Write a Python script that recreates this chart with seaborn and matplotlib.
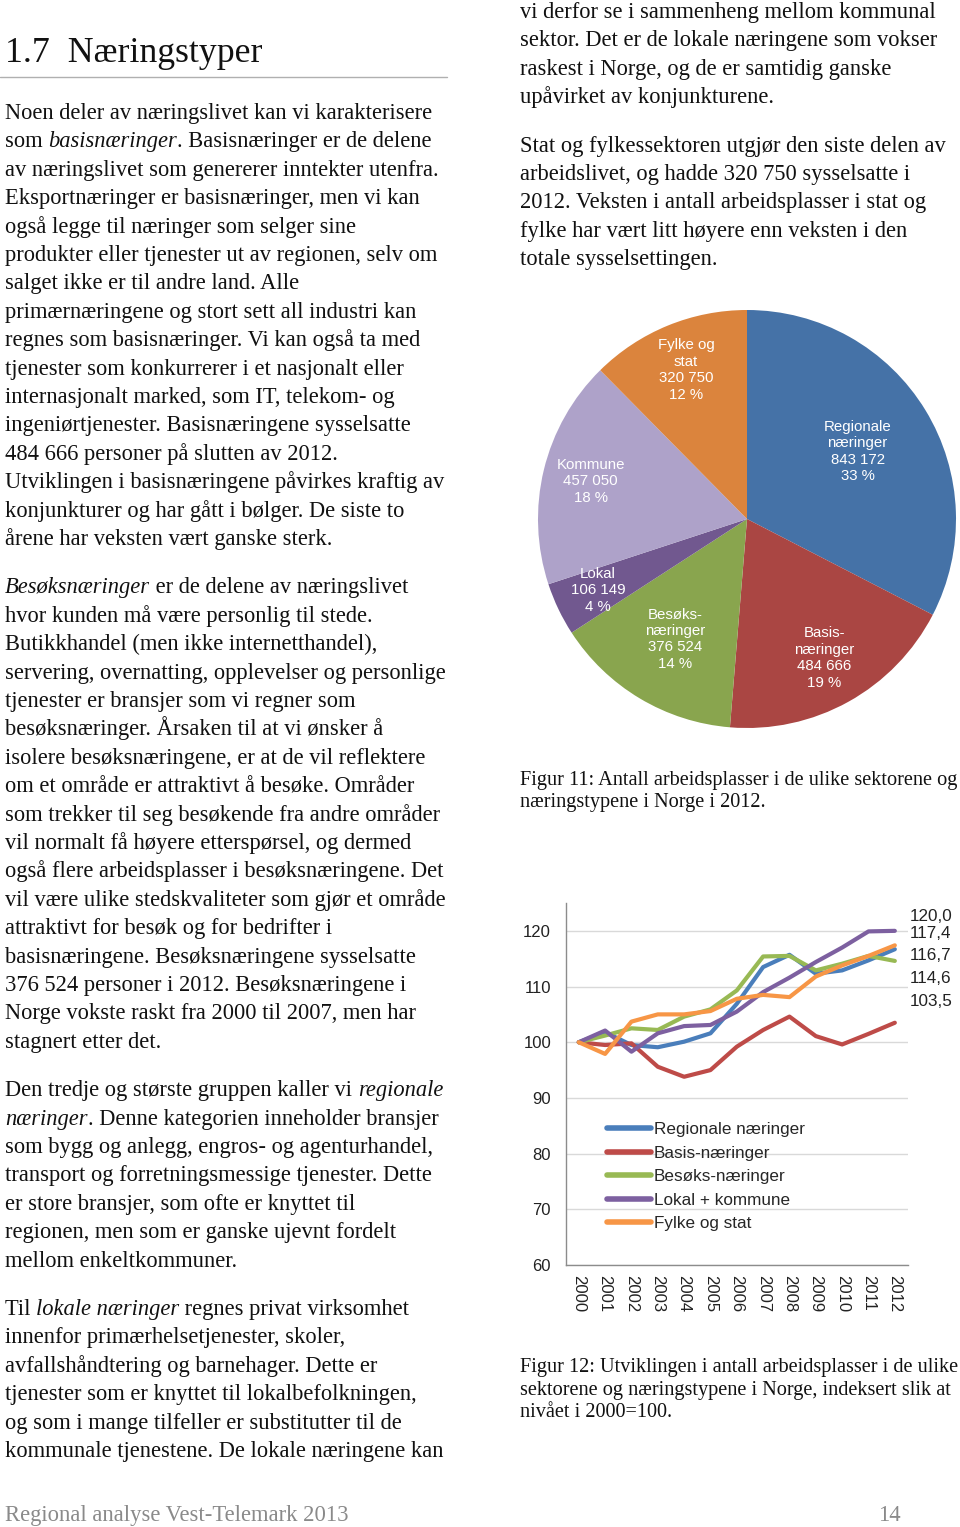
import numpy as np
import pandas as pd
import seaborn as sns
import matplotlib.pyplot as plt

W, H = 960, 1527

# Figur 11: arbeidsplasser 2012
pie_names = ['Regionale\nnæringer', 'Basis-\nnæringer', 'Besøks-\nnæringer',
             'Lokal', 'Kommune', 'Fylke og\nstat']
pie_values = [843172, 484666, 376524, 106149, 457050, 320750]
pie_pct = [33, 19, 14, 4, 18, 12]
pie_colors = ['#4572A7', '#AA4643', '#89A54E', '#71588F', '#AEA2C9', '#DB843D']
pie_label_dist = [0.62, 0.76, 0.67, 0.79, 0.77, 0.77]

# Figur 12: indeks 2000=100
years = [2000, 2001, 2002, 2003, 2004, 2005, 2006, 2007, 2008, 2009, 2010, 2011, 2012]
series_names = ['Regionale næringer', 'Basis-næringer', 'Besøks-næringer',
                'Lokal + kommune', 'Fylke og stat']
regionale = [100, 101.8, 99.5, 99.1, 100.1, 101.6, 106.9, 113.5, 115.7, 112.3, 112.9, 114.7, 116.7]
basis = [100, 99.5, 99.8, 95.6, 93.8, 95.0, 99.2, 102.2, 104.6, 101.1, 99.6, 101.5, 103.5]
besoks = [100, 101.2, 102.5, 102.2, 104.6, 105.9, 109.3, 115.4, 115.5, 112.9, 114.1, 115.5, 114.6]
lokal_kommune = [100, 102.1, 98.3, 101.6, 102.9, 103.1, 105.5, 109.0, 111.6, 114.4, 117.0, 119.9, 120.0]
fylke_stat = [100, 97.9, 103.7, 105.0, 105.0, 105.6, 107.8, 108.5, 108.1, 111.8, 113.8, 115.5, 117.4]
line_colors = ['#4A7EBB', '#BE4B48', '#98B954', '#7D60A0', '#F79646']
# offset (px, down positive) of the end labels from the last point
end_label_dy = [6, -21, 17.5, -14, -12]

left_paragraphs = [
    ["Noen deler av næringslivet kan vi karakterisere",
     "som _basisnæringer_. Basisnæringer er de delene",
     "av næringslivet som genererer inntekter utenfra.",
     "Eksportnæringer er basisnæringer, men vi kan",
     "også legge til næringer som selger sine",
     "produkter eller tjenester ut av regionen, selv om",
     "salget ikke er til andre land. Alle",
     "primærnæringene og stort sett all industri kan",
     "regnes som basisnæringer. Vi kan også ta med",
     "tjenester som konkurrerer i et nasjonalt eller",
     "internasjonalt marked, som IT, telekom- og",
     "ingeniørtjenester. Basisnæringene sysselsatte",
     "484 666 personer på slutten av 2012.",
     "Utviklingen i basisnæringene påvirkes kraftig av",
     "konjunkturer og har gått i bølger. De siste to",
     "årene har veksten vært ganske sterk."],
    ["_Besøksnæringer_ er de delene av næringslivet",
     "hvor kunden må være personlig til stede.",
     "Butikkhandel (men ikke internetthandel),",
     "servering, overnatting, opplevelser og personlige",
     "tjenester er bransjer som vi regner som",
     "besøksnæringer. Årsaken til at vi ønsker å",
     "isolere besøksnæringene, er at de vil reflektere",
     "om et område er attraktivt å besøke. Områder",
     "som trekker til seg besøkende fra andre områder",
     "vil normalt få høyere etterspørsel, og dermed",
     "også flere arbeidsplasser i besøksnæringene. Det",
     "vil være ulike stedskvaliteter som gjør et område",
     "attraktivt for besøk og for bedrifter i",
     "basisnæringene. Besøksnæringene sysselsatte",
     "376 524 personer i 2012. Besøksnæringene i",
     "Norge vokste raskt fra 2000 til 2007, men har",
     "stagnert etter det."],
    ["Den tredje og største gruppen kaller vi _regionale_",
     "_næringer_. Denne kategorien inneholder bransjer",
     "som bygg og anlegg, engros- og agenturhandel,",
     "transport og forretningsmessige tjenester. Dette",
     "er store bransjer, som ofte er knyttet til",
     "regionen, men som er ganske ujevnt fordelt",
     "mellom enkeltkommuner."],
    ["Til _lokale næringer_ regnes privat virksomhet",
     "innenfor primærhelsetjenester, skoler,",
     "avfallshåndtering og barnehager. Dette er",
     "tjenester som er knyttet til lokalbefolkningen,",
     "og som i mange tilfeller er substitutter til de",
     "kommunale tjenestene. De lokale næringene kan"],
]
right_paragraphs = [
    ["vi derfor se i sammenheng mellom kommunal",
     "sektor. Det er de lokale næringene som vokser",
     "raskest i Norge, og de er samtidig ganske",
     "upåvirket av konjunkturene."],
    ["Stat og fylkessektoren utgjør den siste delen av",
     "arbeidslivet, og hadde 320 750 sysselsatte i",
     "2012. Veksten i antall arbeidsplasser i stat og",
     "fylke har vært litt høyere enn veksten i den",
     "totale sysselsettingen."],
]
caption11 = ["Figur 11: Antall arbeidsplasser i de ulike sektorene og",
             "næringstypene i Norge i 2012."]
caption12 = ["Figur 12: Utviklingen i antall arbeidsplasser i de ulike",
             "sektorene og næringstypene i Norge, indeksert slik at",
             "nivået i 2000=100."]
heading = "1.7  Næringstyper"
footer = "Regional analyse Vest-Telemark 2013"
page_no = "14"

sns.set_theme(style='white')
plt.rcParams['font.family'] = ['Liberation Sans', 'DejaVu Sans']
SERIF = ['Liberation Serif', 'DejaVu Serif']

fig = plt.figure(figsize=(W / 100, H / 100), dpi=100)
fig.patch.set_facecolor('white')
renderer = fig.canvas.get_renderer()


def text_width(s, size, style='normal'):
    t = fig.text(0, 0, 'a' + s + 'a', fontsize=size, family=SERIF, style=style)
    w = t.get_window_extent(renderer).width
    t.set_text('aa')
    w -= t.get_window_extent(renderer).width
    t.remove()
    return w


def fit_size(s, target):
    return 10 * target / text_width(s, 10)


def draw_line(x, y, line, size, color='#111111'):
    for i, seg in enumerate(line.split('_')):
        if not seg:
            continue
        style = 'italic' if i % 2 else 'normal'
        fig.text(x / W, 1 - y / H, seg, fontsize=size, family=SERIF, style=style,
                 color=color, ha='left', va='baseline')
        x += text_width(seg, size, style)


def draw_block(x, y, paragraphs, size, lead=28.4, gap=20):
    for para in paragraphs:
        for line in para:
            draw_line(x, y, line, size)
            y += lead
        y += gap


body = fit_size(left_paragraphs[0][0], 428)
cap = fit_size(caption11[0], 438)

# heading
fig.text(5 / W, 1 - 62 / H, heading, fontsize=fit_size(heading, 257), family=SERIF,
         color='#111111', ha='left', va='baseline')
fig.add_artist(plt.Line2D([0, 447 / W], [1 - 77 / H] * 2, color='#b0b0b0', lw=1))

draw_block(5, 119, left_paragraphs, body)
draw_block(520, 18, right_paragraphs, body)
draw_block(520, 785, [caption11], cap, lead=21.8)
draw_block(520, 1372, [caption12], cap, lead=22.5)

fs = fit_size(footer, 343)
fig.text(5 / W, 1 - 1521 / H, footer, fontsize=fs, family=SERIF, color='#8a8a8a',
         ha='left', va='baseline')
fig.text(878 / W, 1 - 1521 / H, page_no, fontsize=fs, family=SERIF, color='#8a8a8a',
         ha='left', va='baseline')

# ---- pie (figur 11)
cx, cy, r = 747, 519, 209
ax1 = fig.add_axes([(cx - r) / W, 1 - (cy + r) / H, 2 * r / W, 2 * r / H])
wedges, _ = ax1.pie(pie_values, colors=pie_colors, startangle=90, counterclock=False,
                    wedgeprops=dict(linewidth=0))
ax1.set_xlim(-1, 1)
ax1.set_ylim(-1, 1)
ax1.set_aspect('equal')
ax1.axis('off')
for w, name, val, pct, d in zip(wedges, pie_names, pie_values, pie_pct, pie_label_dist):
    th = np.deg2rad((w.theta1 + w.theta2) / 2)
    label = f"{name}\n{val:,}\n{pct} %".replace(',', ' ')
    ax1.text(d * np.cos(th), d * np.sin(th), label, ha='center', va='center',
             color='white', fontsize=10.8, linespacing=1.22)

# ---- lines (figur 12)
all_series = [regionale, basis, besoks, lokal_kommune, fylke_stat]
df = pd.DataFrame({
    'År': years * len(series_names),
    'Indeks': sum(all_series, []),
    'Sektor': np.repeat(series_names, len(years)),
})
ax2 = fig.add_axes([565.6 / W, 1 - 1265 / H, (908 - 565.6) / W, (1265 - 903) / H])
sns.lineplot(data=df, x='År', y='Indeks', hue='Sektor', palette=line_colors,
             linewidth=3, ax=ax2, legend=True)
ax2.set_xlim(1999.5, 2012.5)
ax2.set_ylim(60, 125)
ax2.set_yticks(range(60, 121, 10))
ax2.set_xticks(years)
ax2.set_xticklabels([str(y) for y in years], rotation=-90, va='top', ha='center')
ax2.set_xlabel('')
ax2.set_ylabel('')
ax2.yaxis.grid(True, color='#d9d9d9', lw=1)
ax2.xaxis.grid(False)
ax2.set_facecolor('white')
for s in ['top', 'right']:
    ax2.spines[s].set_visible(False)
for s in ['left', 'bottom']:
    ax2.spines[s].set_color('#8c8c8c')
    ax2.spines[s].set_linewidth(1)
ax2.tick_params(axis='y', length=0, pad=10.5, labelsize=12, labelcolor='#222222')
ax2.tick_params(axis='x', length=0, pad=7, labelsize=12, labelcolor='#222222')

for vals, dy in zip(all_series, end_label_dy):
    ax2.annotate(f"{vals[-1]:.1f}".replace('.', ','), xy=(years[-1], vals[-1]),
                 xytext=(15 * 0.72, -dy * 0.72), textcoords='offset points',
                 ha='left', va='center', fontsize=12.3, color='#222222',
                 annotation_clip=False)

handles, labels = ax2.get_legend_handles_labels()
leg = ax2.legend(handles, labels, loc='upper left',
                 bbox_to_anchor=((607 - 565.6) / 342.4, (1265 - 1122) / 362),
                 frameon=False, fontsize=12.3, handlelength=2.55, handletextpad=0.2,
                 labelspacing=0.5, borderpad=0, borderaxespad=0)
for line in leg.get_lines():
    line.set_linewidth(4)

fig.savefig('out.png', dpi=100)
